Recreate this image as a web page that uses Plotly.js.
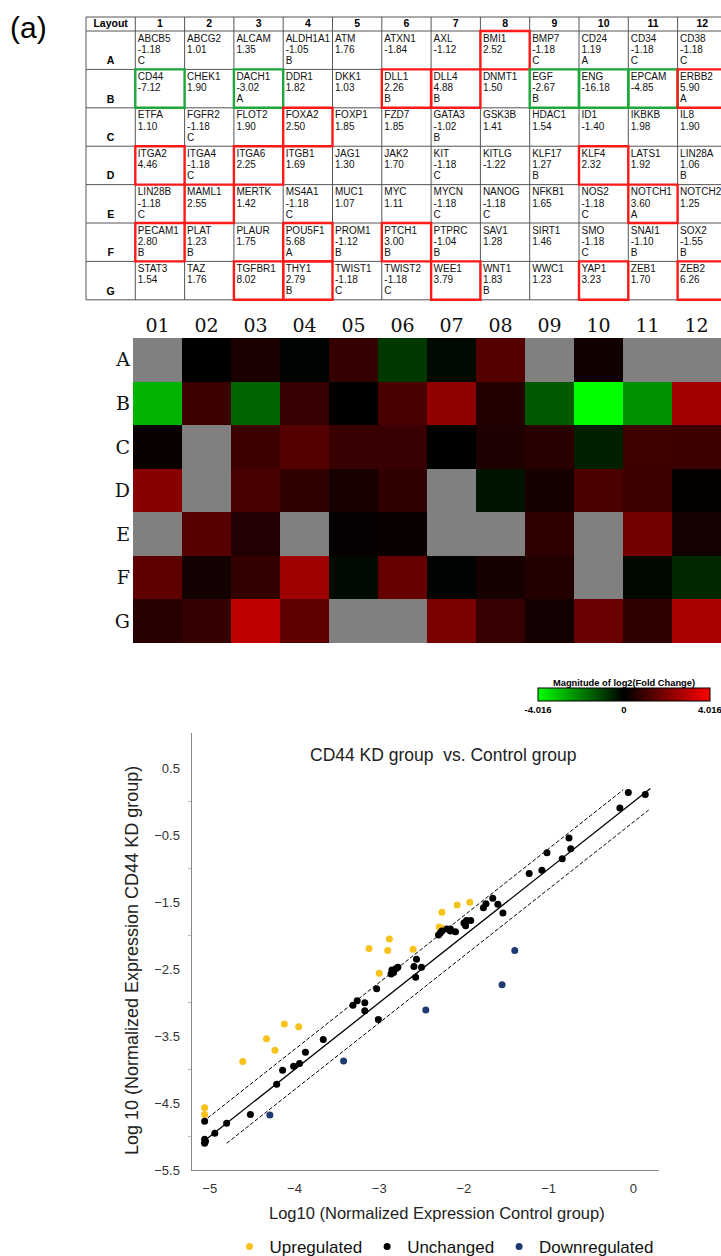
<!DOCTYPE html>
<html>
<head>
<meta charset="utf-8">
<script src="https://cdn.plot.ly/plotly-3.0.1.min.js"></script>
<style>html,body{margin:0;padding:0;background:#fff;}#chart{width:721px;height:1256px;}</style>
</head>
<body>
<div id="chart"></div>
<script>
// ---------------- DATA ----------------
const rowLabels = ['A','B','C','D','E','F','G'];
const colLabels = ['1','2','3','4','5','6','7','8','9','10','11','12'];
const heatColLabels = ['01','02','03','04','05','06','07','08','09','10','11','12'];

const genes = [
 'ABCB5','ABCG2','ALCAM','ALDH1A1','ATM','ATXN1','AXL','BMI1','BMP7','CD24','CD34','CD38',
 'CD44','CHEK1','DACH1','DDR1','DKK1','DLL1','DLL4','DNMT1','EGF','ENG','EPCAM','ERBB2',
 'ETFA','FGFR2','FLOT2','FOXA2','FOXP1','FZD7','GATA3','GSK3B','HDAC1','ID1','IKBKB','IL8',
 'ITGA2','ITGA4','ITGA6','ITGB1','JAG1','JAK2','KIT','KITLG','KLF17','KLF4','LATS1','LIN28A',
 'LIN28B','MAML1','MERTK','MS4A1','MUC1','MYC','MYCN','NANOG','NFKB1','NOS2','NOTCH1','NOTCH2',
 'PECAM1','PLAT','PLAUR','POU5F1','PROM1','PTCH1','PTPRC','SAV1','SIRT1','SMO','SNAI1','SOX2',
 'STAT3','TAZ','TGFBR1','THY1','TWIST1','TWIST2','WEE1','WNT1','WWC1','YAP1','ZEB1','ZEB2'
];
const foldRegulation = [
 -1.18, 1.01, 1.35,-1.05, 1.76,-1.84,-1.12, 2.52,-1.18, 1.19,-1.18,-1.18,
 -7.12, 1.90,-3.02, 1.82, 1.03, 2.26, 4.88, 1.50,-2.67,-16.18,-4.85, 5.90,
  1.10,-1.18, 1.90, 2.50, 1.85, 1.85,-1.02, 1.41, 1.54,-1.40, 1.98, 1.90,
  4.46,-1.18, 2.25, 1.69, 1.30, 1.70,-1.18,-1.22, 1.27, 2.32, 1.92, 1.06,
 -1.18, 2.55, 1.42,-1.18, 1.07, 1.11,-1.18,-1.18, 1.65,-1.18, 3.60, 1.25,
  2.80, 1.23, 1.75, 5.68,-1.12, 3.00,-1.04, 1.28, 1.46,-1.18,-1.10,-1.55,
  1.54, 1.76, 8.02, 2.79,-1.18,-1.18, 3.79, 1.83, 1.23, 3.23, 1.70, 6.26
];
const flags = [
 'C','','','B','','','','','C','A','C','C',
 '','','A','','','B','B','','B','','','A',
 '','C','','','','','B','','','','','',
 '','C','','','','','C','','B','','','B',
 'C','','','C','','','C','C','','C','A','',
 'B','B','','A','B','B','B','','','C','B','B',
 '','','','B','C','C','','B','','','',''
];
const foldThreshold = 2;
const colorLimit = 4.016;

// scatter: log10 normalized expression (control, CD44 KD)
const upX   = [-5.06,-5.06,-4.61,-4.33,-4.23,-4.12,-3.95,-3.12,-2.88,-2.90,-3.00,-2.60,-2.29,-2.26,-2.08,-1.93,-2.25];
const upY   = [-4.57,-4.67,-3.88,-3.54,-3.71,-3.32,-3.36,-2.19,-2.05,-2.22,-2.56,-2.20,-1.87,-1.65,-1.54,-1.50,-1.89];
const unX   = [0.14,-0.06,-0.16,-0.76,-0.74,-1.02,-0.84,-1.08,-1.23,-1.66,-1.74,-1.77,-1.60,-1.54,
               -2.00,-1.97,-1.92,-1.98,-2.10,-2.16,-2.20,-2.16,-2.28,-2.30,-2.26,
               -2.56,-2.59,-2.50,-2.57,-2.78,-2.80,-2.85,-2.86,-2.83,-3.03,-3.17,-3.17,-3.26,-3.31,-3.01,
               -3.66,-3.87,-3.94,-4.01,-4.14,-4.21,-4.52,-4.80,-4.94,-5.06,-5.06,-5.06,-5.05];
const unY   = [0.11,0.14,-0.09,-0.54,-0.70,-0.76,-0.85,-1.02,-1.07,-1.44,-1.52,-1.58,-1.53,-1.66,
               -1.81,-1.77,-1.77,-1.85,-1.94,-1.90,-1.90,-1.93,-1.96,-1.99,-1.93,
               -2.35,-2.46,-2.47,-2.62,-2.47,-2.49,-2.51,-2.57,-2.55,-2.79,-3.00,-3.12,-2.97,-3.04,-3.25,
               -3.55,-3.74,-3.91,-3.95,-4.01,-4.22,-4.67,-4.80,-4.95,-4.77,-5.04,-5.10,-5.07];
const downX = [-1.40,-1.55,-2.45,-3.42,-4.29];
const downY = [-2.22,-2.73,-3.11,-3.87,-4.68];
const diagX  = [-5.1, 0.2];
const upperX = [-5.08, -0.12];
const lowerX = [-4.8, 0.18];

// ---------------- BUILD ----------------
const W = 721, H = 1256;
const px = v => v / W, py = v => 1 - v / H;
const nR = rowLabels.length, nC = colLabels.length;
const HEAD = 0.365;           // header row height in row units
const UPX = 49.3, UPY = 38.4; // pixels per table unit
const FONT = 'Liberation Sans, Arial, sans-serif';

const traces = [];
const shapes = [];

// ----- table (axis pair x4/y4) -----
const nameY=[], nameT=[], valY=[], valT=[], flgY=[], flgT=[], cellX=[];
for (let r = 0; r < nR; r++) {
  for (let c = 0; c < nC; c++) {
    const k = r * nC + c;
    cellX.push(c + 1 + 2.5 / UPX);
    nameY.push(HEAD + r + 8 / UPY); nameT.push(genes[k]);
    valY.push(HEAD + r + 19.5 / UPY); valT.push(foldRegulation[k].toFixed(2));
    flgY.push(HEAD + r + 30.5 / UPY); flgT.push(flags[k]);
    const v = foldRegulation[k];
    if (Math.abs(v) >= foldThreshold) {
      shapes.push({type:'rect', xref:'x4', yref:'y4', x0:c+1, x1:c+2, y0:HEAD+r, y1:HEAD+r+1,
        line:{color: v > 0 ? '#ff1a1a' : '#1ea83c', width:2.4}, layer:'above'});
    }
  }
}
const cellFont = {family:FONT, size:10, color:'#111'};
[[nameY,nameT],[valY,valT],[flgY,flgT]].forEach(([yy,tt]) => {
  traces.push({type:'scatter', mode:'text', x:cellX, y:yy, text:tt, textposition:'middle right',
    textfont:cellFont, xaxis:'x4', yaxis:'y4', hoverinfo:'skip', showlegend:false, cliponaxis:true});
});
traces.push({type:'scatter', mode:'text',
  x:[0.5].concat(colLabels.map((_,i)=>i+1.5)), y:Array(nC+1).fill(HEAD/2),
  text:['<b>Layout</b>'].concat(colLabels.map(s=>'<b>'+s+'</b>')), textposition:'middle center',
  textfont:{family:FONT, size:10.5, color:'#000'},
  xaxis:'x4', yaxis:'y4', hoverinfo:'skip', showlegend:false});
traces.push({type:'scatter', mode:'text',
  x:rowLabels.map(()=>0.5), y:rowLabels.map((_,i)=>HEAD+i+30.5/UPY),
  text:rowLabels.map(s=>'<b>'+s+'</b>'), textposition:'middle center',
  textfont:{family:FONT, size:10.5, color:'#000'},
  xaxis:'x4', yaxis:'y4', hoverinfo:'skip', showlegend:false});
const gridShapes = [];
const tableBottom = HEAD + nR;
for (let c = 0; c <= nC + 1; c++) {
  gridShapes.push({type:'line', xref:'x4', yref:'y4', x0:c, x1:c, y0:0, y1:tableBottom, line:{color:'#555', width:1}, layer:'above'});
}
gridShapes.push({type:'line', xref:'x4', yref:'y4', x0:0, x1:nC+1, y0:0, y1:0, line:{color:'#555', width:1}, layer:'above'});
for (let r = 0; r <= nR; r++) {
  gridShapes.push({type:'line', xref:'x4', yref:'y4', x0:0, x1:nC+1, y0:HEAD+r, y1:HEAD+r, line:{color:'#555', width:1}, layer:'above'});
}

// ----- heatmap -----
const zMain = [], zGray = [];
for (let r = 0; r < nR; r++) {
  const rowM = [], rowG = [];
  for (let c = 0; c < nC; c++) {
    const k = r * nC + c, v = foldRegulation[k];
    if (flags[k] === 'C') { rowM.push(null); rowG.push(1); }
    else { rowM.push(Math.sign(v) * Math.log2(Math.abs(v))); rowG.push(null); }
  }
  zMain.push(rowM); zGray.push(rowG);
}
traces.push({type:'heatmap', x:heatColLabels, y:rowLabels, z:zGray, zmin:0, zmax:1,
  colorscale:[[0,'#808080'],[1,'#808080']], showscale:false, hoverinfo:'skip', xaxis:'x2', yaxis:'y2'});
traces.push({type:'heatmap', x:heatColLabels, y:rowLabels, z:zMain, zmin:-colorLimit, zmax:colorLimit,
  colorscale:[[0,'#00ff00'],[0.5,'#000000'],[1,'#ff0000']], xaxis:'x2', yaxis:'y2',
  colorbar:{orientation:'h', x:px(624), xanchor:'center', y:py(713), yanchor:'bottom',
    lenmode:'pixels', len:172, thicknessmode:'pixels', thickness:13,
    outlinewidth:1, outlinecolor:'#000', xpad:0, ypad:0,
    tickvals:[-colorLimit*0.9995,0,colorLimit*0.9995], ticktext:['-'+colorLimit.toFixed(3),'0',colorLimit.toFixed(3)],
    ticklabeloverflow:'allow',
    ticks:'', tickfont:{family:FONT, size:9.5, color:'#000', weight:'bold'},
    title:{text:'<b>Magnitude of log2(Fold Change)</b>', side:'top',
      font:{family:FONT, size:9.3, color:'#000'}}}});

// ----- scatter -----
const logT = Math.log10(foldThreshold);
traces.push({type:'scatter', mode:'lines', x:diagX, y:diagX.map(v=>v), line:{color:'#000', width:1.3},
  xaxis:'x3', yaxis:'y3', showlegend:false, hoverinfo:'skip'});
traces.push({type:'scatter', mode:'lines', x:upperX, y:upperX.map(v=>v+logT), line:{color:'#000', width:1, dash:'4px,2px'},
  xaxis:'x3', yaxis:'y3', showlegend:false, hoverinfo:'skip'});
traces.push({type:'scatter', mode:'lines', x:lowerX, y:lowerX.map(v=>v-logT), line:{color:'#000', width:1, dash:'4px,2px'},
  xaxis:'x3', yaxis:'y3', showlegend:false, hoverinfo:'skip'});
traces.push({type:'scatter', mode:'markers', name:'Upregulated', x:upX, y:upY,
  marker:{color:'#f8c21c', size:7}, xaxis:'x3', yaxis:'y3', legendrank:1});
traces.push({type:'scatter', mode:'markers', name:'Unchanged', x:unX, y:unY,
  marker:{color:'#000000', size:7}, xaxis:'x3', yaxis:'y3', legendrank:2});
traces.push({type:'scatter', mode:'markers', name:'Downregulated', x:downX, y:downY,
  marker:{color:'#1f3a70', size:7}, xaxis:'x3', yaxis:'y3', legendrank:3});

const tickFont = {family:FONT, size:13, color:'#333'};
const heatTickFont = {family:'DejaVu Serif, serif', size:19, color:'#111'};
const layout = {
  width:W, height:H, margin:{l:0, r:0, t:0, b:0, autoexpand:false},
  paper_bgcolor:'#fff', plot_bgcolor:'rgba(0,0,0,0)',
  font:{family:FONT},
  showlegend:true,
  legend:{orientation:'h', x:px(444), xanchor:'center', y:py(1247), yanchor:'middle',
    font:{family:FONT, size:17, color:'#111'}, itemwidth:30, bgcolor:'rgba(0,0,0,0)', traceorder:'normal'},
  // table
  xaxis4:{domain:[px(85), 1], range:[-1/UPX, (W-85)/UPX - 1/UPX], visible:false, fixedrange:true},
  yaxis4:{domain:[py(302), py(16)], range:[(302-16)/UPY - 1/UPY, -1/UPY], visible:false, fixedrange:true},
  // heatmap
  xaxis2:{domain:[px(133), 1], anchor:'y2', type:'category', side:'top', showgrid:false, zeroline:false, ticks:'',
    showline:false, tickmode:'array', tickvals:heatColLabels, ticktext:heatColLabels, tickfont:heatTickFont,
    ticklabelstandoff:1},
  yaxis2:{domain:[py(643), py(338)], anchor:'x2', type:'category', autorange:'reversed', showgrid:false,
    zeroline:false, ticks:'', tickmode:'array', tickvals:rowLabels, ticktext:rowLabels, tickfont:heatTickFont,
    ticklabelstandoff:2},
  // scatter
  xaxis3:{domain:[px(191.5), px(659)], anchor:'y3', range:[-5.215, 0.302], showgrid:false, zeroline:false,
    showline:true, linecolor:'#888', linewidth:1, tickvals:[-5,-4,-3,-2,-1,0], ticks:'', tickfont:tickFont,
    ticklabelstandoff:6},
  yaxis3:{domain:[py(1170), py(733)], anchor:'x3', range:[-5.5, 1.03], showgrid:false, zeroline:false,
    showline:true, linecolor:'#888', linewidth:1, tickvals:[-5.5,-4.5,-3.5,-2.5,-1.5,-0.5,0.5], ticks:'',
    tickfont:tickFont, ticklabelstandoff:8,
    minor:{tickvals:[-5,-4,-3,-2,-1,0], ticks:'outside', ticklen:3, tickcolor:'#bbb'}},
  shapes: gridShapes.concat(shapes),
  annotations:[
    {text:'(a)', x:px(8), y:py(28), xref:'paper', yref:'paper', xanchor:'left', yanchor:'middle', showarrow:false,
      font:{family:FONT, size:30, color:'#000'}},
    {text:'CD44 KD group \u00a0vs. Control group', x:px(444), y:py(755), xref:'paper', yref:'paper',
      xanchor:'center', yanchor:'middle', showarrow:false, font:{family:FONT, size:17.5, color:'#222'}},
    {text:'Log10 (Normalized Expression Control group)', x:px(437), y:py(1213), xref:'paper', yref:'paper',
      xanchor:'center', yanchor:'middle', showarrow:false, font:{family:FONT, size:16.5, color:'#222'}},
    {text:'Log 10 (Normalized Expression CD44 KD group)', x:px(132), y:py(961), xref:'paper', yref:'paper',
      xanchor:'center', yanchor:'middle', showarrow:false, textangle:-90,
      font:{family:FONT, size:18, color:'#222'}}
  ]
};
Plotly.newPlot('chart', traces, layout, {staticPlot:true, displayModeBar:false});
</script>
</body>
</html>
